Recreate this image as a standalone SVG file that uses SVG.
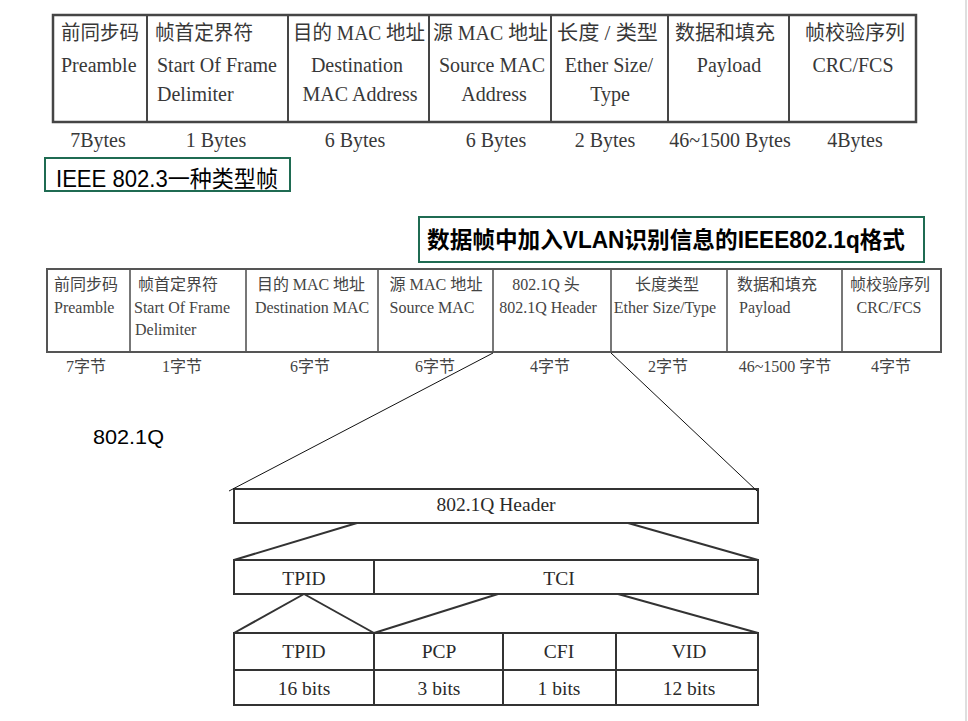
<svg xmlns="http://www.w3.org/2000/svg" width="968" height="721" viewBox="0 0 968 721">
<style>
.t1{font-family:"Liberation Serif","Noto Sans CJK SC",serif;font-size:20px;fill:#383838}
.t2{font-family:"Liberation Serif","Noto Sans CJK SC",serif;font-size:16px;fill:#444}
.t3{font-family:"Liberation Serif","Noto Sans CJK SC",serif;font-size:19.5px;fill:#2a2a2a}
.c{text-anchor:middle}
.lbl{font-family:"Liberation Sans","Noto Sans CJK SC",sans-serif;fill:#000}
.box1{fill:none;stroke:#454545;stroke-width:2.5}
.div1{stroke:#454545;stroke-width:2}
.box2{fill:none;stroke:#555;stroke-width:2}
.div2{stroke:#555;stroke-width:1.6}
.box3{fill:none;stroke:#333;stroke-width:2}
.tag{fill:#fff;stroke:#1f6b52;stroke-width:2}
.thin{stroke:#111;stroke-width:1;fill:none}
.trap{stroke:#333;stroke-width:2;fill:none}
</style>
<rect width="968" height="721" fill="#fff"/>
<line x1="966" y1="0" x2="966" y2="721" stroke="#d4d4d4" stroke-width="1.5"/>

<g id="frame8023">
  <rect class="box1" x="53" y="15" width="863" height="107"/>
  <line class="div1" x1="147" y1="15" x2="147" y2="122"/>
  <line class="div1" x1="288" y1="15" x2="288" y2="122"/>
  <line class="div1" x1="429" y1="15" x2="429" y2="122"/>
  <line class="div1" x1="551" y1="15" x2="551" y2="122"/>
  <line class="div1" x1="668" y1="15" x2="668" y2="122"/>
  <line class="div1" x1="789" y1="15" x2="789" y2="122"/>
  <g id="f1-preamble">
    <text class="t1" x="61" y="40" textLength="78" lengthAdjust="spacingAndGlyphs">前同步码</text>
    <text class="t1" x="61" y="72">Preamble</text>
  </g>
  <g id="f1-sfd">
    <text class="t1" x="155" y="40" textLength="98" lengthAdjust="spacingAndGlyphs">帧首定界符</text>
    <text class="t1" x="157" y="72">Start Of Frame</text>
    <text class="t1" x="157" y="101">Delimiter</text>
  </g>
  <g id="f1-dst">
    <text class="t1" x="293" y="40" textLength="132" lengthAdjust="spacingAndGlyphs">目的 MAC 地址</text>
    <text class="t1 c" x="357" y="72">Destination</text>
    <text class="t1 c" x="360" y="101">MAC Address</text>
  </g>
  <g id="f1-src">
    <text class="t1" x="433" y="40" textLength="115" lengthAdjust="spacingAndGlyphs">源 MAC 地址</text>
    <text class="t1 c" x="492" y="72">Source MAC</text>
    <text class="t1 c" x="494" y="101">Address</text>
  </g>
  <g id="f1-type">
    <text class="t1" x="557" y="40" textLength="101" lengthAdjust="spacingAndGlyphs">长度 / 类型</text>
    <text class="t1 c" x="609" y="72">Ether Size/</text>
    <text class="t1 c" x="610" y="101">Type</text>
  </g>
  <g id="f1-payload">
    <text class="t1 c" x="725" y="40">数据和填充</text>
    <text class="t1 c" x="729" y="72">Payload</text>
  </g>
  <g id="f1-fcs">
    <text class="t1 c" x="855" y="40">帧校验序列</text>
    <text class="t1 c" x="853" y="72">CRC/FCS</text>
  </g>
  <g id="f1-sizes">
    <text class="t1 c" x="98" y="147">7Bytes</text>
    <text class="t1 c" x="216" y="147">1 Bytes</text>
    <text class="t1 c" x="355" y="147">6 Bytes</text>
    <text class="t1 c" x="496" y="147">6 Bytes</text>
    <text class="t1 c" x="605" y="147">2 Bytes</text>
    <text class="t1 c" x="730" y="147">46~1500 Bytes</text>
    <text class="t1 c" x="855" y="147">4Bytes</text>
  </g>
</g>

<g id="label-8023">
  <rect class="tag" x="45" y="158" width="245" height="33"/>
  <text class="lbl" x="56" y="187" font-size="23" textLength="222" lengthAdjust="spacingAndGlyphs">IEEE 802.3一种类型帧</text>
</g>

<g id="label-8021q">
  <rect class="tag" x="419" y="217" width="505" height="45"/>
  <text class="lbl" x="427" y="248" font-size="23" font-weight="bold" textLength="478" lengthAdjust="spacingAndGlyphs">数据帧中加入VLAN识别信息的IEEE802.1q格式</text>
</g>

<g id="frame8021q">
  <rect class="box2" x="47" y="269" width="894" height="83"/>
  <line class="div2" x1="130" y1="269" x2="130" y2="352"/>
  <line class="div2" x1="246" y1="269" x2="246" y2="352"/>
  <line class="div2" x1="378" y1="269" x2="378" y2="352"/>
  <line class="div2" x1="493" y1="269" x2="493" y2="352"/>
  <line class="div2" x1="611" y1="269" x2="611" y2="352"/>
  <line class="div2" x1="727" y1="269" x2="727" y2="352"/>
  <line class="div2" x1="842" y1="269" x2="842" y2="352"/>
  <g id="f2-preamble">
    <text class="t2" x="54" y="290">前同步码</text>
    <text class="t2" x="54" y="313">Preamble</text>
  </g>
  <g id="f2-sfd">
    <text class="t2" x="138" y="290">帧首定界符</text>
    <text class="t2" x="134" y="313">Start Of Frame</text>
    <text class="t2" x="135" y="335">Delimiter</text>
  </g>
  <g id="f2-dst">
    <text class="t2 c" x="311" y="290" textLength="108" lengthAdjust="spacingAndGlyphs">目的 MAC 地址</text>
    <text class="t2 c" x="312" y="313">Destination MAC</text>
  </g>
  <g id="f2-src">
    <text class="t2 c" x="436" y="290" textLength="93" lengthAdjust="spacingAndGlyphs">源 MAC 地址</text>
    <text class="t2 c" x="432" y="313">Source MAC</text>
  </g>
  <g id="f2-tag">
    <text class="t2 c" x="546" y="290">802.1Q 头</text>
    <text class="t2 c" x="548" y="313">802.1Q Header</text>
  </g>
  <g id="f2-type">
    <text class="t2 c" x="667" y="290">长度类型</text>
    <text class="t2 c" x="665" y="313">Ether Size/Type</text>
  </g>
  <g id="f2-payload">
    <text class="t2 c" x="777" y="290">数据和填充</text>
    <text class="t2" x="739" y="313">Payload</text>
  </g>
  <g id="f2-fcs">
    <text class="t2 c" x="890" y="290">帧校验序列</text>
    <text class="t2 c" x="889" y="313">CRC/FCS</text>
  </g>
  <g id="f2-sizes">
    <text class="t2 c" x="86" y="372">7字节</text>
    <text class="t2 c" x="182" y="372">1字节</text>
    <text class="t2 c" x="310" y="372">6字节</text>
    <text class="t2 c" x="435" y="372">6字节</text>
    <text class="t2 c" x="550" y="372">4字节</text>
    <text class="t2 c" x="668" y="372">2字节</text>
    <text class="t2 c" x="785" y="372">46~1500 字节</text>
    <text class="t2 c" x="891" y="372">4字节</text>
  </g>
</g>

<g id="label-8021q-short">
  <text class="lbl" x="93" y="444" font-size="20" textLength="71" lengthAdjust="spacingAndGlyphs">802.1Q</text>
</g>

<g id="header-box">
  <rect class="box3" x="234" y="489" width="524" height="34"/>
  <text class="t3 c" x="496" y="511">802.1Q Header</text>
</g>

<g id="tpid-tci">
  <rect class="box3" x="234" y="560" width="524" height="34"/>
  <line class="box3" x1="374" y1="560" x2="374" y2="594"/>
  <text class="t3 c" x="304" y="585">TPID</text>
  <text class="t3 c" x="559" y="585">TCI</text>
</g>

<g id="fields">
  <rect class="box3" x="234" y="633" width="524" height="72"/>
  <line class="box3" x1="234" y1="670" x2="758" y2="670"/>
  <line class="box3" x1="374" y1="633" x2="374" y2="705"/>
  <line class="box3" x1="503" y1="633" x2="503" y2="705"/>
  <line class="box3" x1="616" y1="633" x2="616" y2="705"/>
  <text class="t3 c" x="304" y="658">TPID</text>
  <text class="t3 c" x="439" y="658">PCP</text>
  <text class="t3 c" x="559" y="658">CFI</text>
  <text class="t3 c" x="689" y="658">VID</text>
  <text class="t3 c" x="304" y="695">16 bits</text>
  <text class="t3 c" x="439" y="695">3 bits</text>
  <text class="t3 c" x="559" y="695">1 bits</text>
  <text class="t3 c" x="689" y="695">12 bits</text>
</g>

<g id="connectors">
  <line class="thin" x1="493" y1="353" x2="229" y2="491"/>
  <line class="thin" x1="611" y1="353" x2="757" y2="491"/>
  <line class="trap" x1="357" y1="523" x2="234" y2="560"/>
  <line class="trap" x1="628" y1="523" x2="758" y2="560"/>
  <line class="trap" x1="304" y1="594" x2="234" y2="633"/>
  <line class="trap" x1="304" y1="594" x2="374" y2="633"/>
  <line class="trap" x1="498" y1="594" x2="374" y2="633"/>
  <line class="trap" x1="618" y1="594" x2="758" y2="633"/>
</g>
</svg>
